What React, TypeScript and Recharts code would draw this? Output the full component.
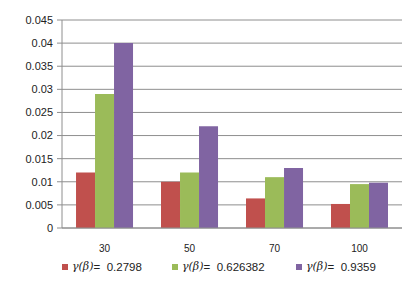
import React from "react";
import { BarChart, Bar, XAxis, YAxis, CartesianGrid, Legend } from "recharts";

const categories = ["30", "50", "70", "100"];
const seriesA = [0.012, 0.01, 0.0064, 0.0052];
const seriesB = [0.029, 0.012, 0.011, 0.0095];
const seriesC = [0.04, 0.022, 0.013, 0.0098];
const seriesLabels = ["0.2798", "0.626382", "0.9359"];
const yTicks = [0, 0.005, 0.01, 0.015, 0.02, 0.025, 0.03, 0.035, 0.04, 0.045];
const boundaryTicks = [0, 1, 2, 3, 4];

const colors = ["#C0504D", "#9BBB59", "#8064A2"];
const keys = ["a", "b", "c"];

const data = categories.map((c, i) => ({
  cat: c,
  idx: i + 0.5,
  a: seriesA[i],
  b: seriesB[i],
  c: seriesC[i],
}));

const FONT = "'Liberation Sans', Arial, sans-serif";
const GRID = "#8E8E8E";

const LegendContent = () => (
  <div
    style={{
      position: "relative",
      height: 26,
      fontFamily: FONT,
      fontSize: 11.5,
      color: "#222",
    }}
  >
    {seriesLabels.map((l, i) => (
      <div
        key={l}
        style={{
          position: "absolute",
          left: [62, 172, 296][i],
          top: 10,
          display: "flex",
          alignItems: "center",
          whiteSpace: "nowrap",
        }}
      >
        <span
          style={{
            display: "inline-block",
            width: 6,
            height: 6,
            background: colors[i],
            marginRight: 4,
          }}
        />
        <span style={{ fontStyle: "italic", fontFamily: "'DejaVu Serif', serif", fontSize: 11 }}>γ(β)</span>
        <span>=&nbsp; {l}</span>
      </div>
    ))}
  </div>
);

export default function App() {
  return (
    <div style={{ position: "absolute", left: 0, top: 0, background: "#fff" }}>
      <BarChart
        width={416}
        height={289}
        data={data}
        margin={{ top: 20, right: 14, left: 0, bottom: 13 }}
        barCategoryGap="16.5%"
        barGap={0}
      >
        <CartesianGrid vertical={false} stroke={GRID} strokeDasharray="" yAxisId="l" xAxisId="cat" />
        <XAxis
          xAxisId="bound"
          type="number"
          dataKey="idx"
          domain={[0, 4]}
          ticks={boundaryTicks}
          tickFormatter={() => ""}
          tickSize={4}
          tickLine={{ stroke: GRID }}
          axisLine={false}
          height={0}
        />
        <XAxis
          dataKey="cat"
          xAxisId="cat"
          tickLine={false}
          axisLine={{ stroke: GRID }}
          tick={{ fontSize: 10, fill: "#222", fontFamily: FONT }}
          tickMargin={11}
          height={22}
        />
        <YAxis
          yAxisId="l"
          domain={[0, 0.045]}
          ticks={yTicks}
          width={62}
          tickSize={5}
          tickLine={{ stroke: GRID }}
          axisLine={{ stroke: GRID }}
          tick={{ fontSize: 11, fill: "#222", fontFamily: FONT }}
          tickMargin={4}
          interval={0}
        />
        <YAxis
          yAxisId="r"
          orientation="right"
          domain={[0, 0.045]}
          tick={false}
          tickLine={false}
          axisLine={{ stroke: GRID }}
          width={0}
        />
        <Legend verticalAlign="bottom" height={26} content={<LegendContent />} />
        {keys.map((k, i) => (
          <Bar
            key={k}
            dataKey={k}
            xAxisId="cat"
            yAxisId="l"
            fill={colors[i]}
            isAnimationActive={false}
          />
        ))}
      </BarChart>
    </div>
  );
}
